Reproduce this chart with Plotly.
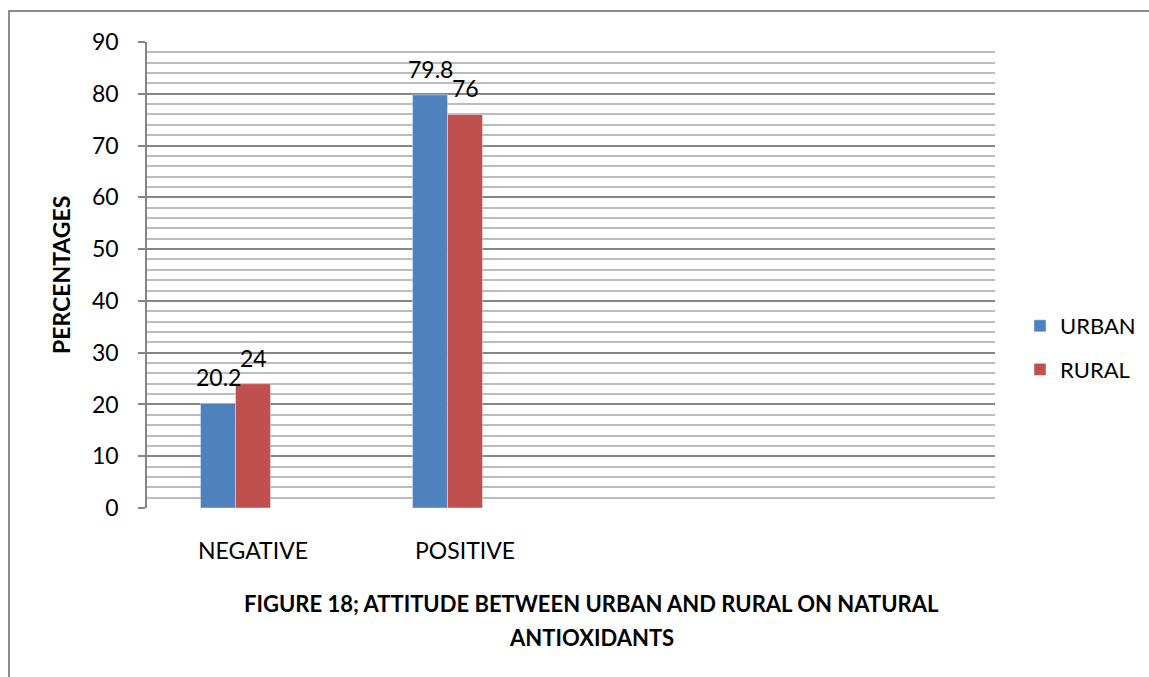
import plotly.graph_objects as go

# Attitude towards natural antioxidants (percent of respondents)
categories = ["NEGATIVE", "POSITIVE", " ", "  "]
responses = ["NEGATIVE", "POSITIVE"]
urban = [20.2, 79.8]
rural = [24, 76]
series_names = ["URBAN", "RURAL"]
y_ticks = [0, 10, 20, 30, 40, 50, 60, 70, 80, 90]

FONT = "Lato"
BLUE = "#4f81bd"
RED = "#c0504d"
BAR_W = 0.165

fig = go.Figure()
fig.add_trace(go.Bar(
    x=responses, y=urban, name=series_names[0], marker_color=BLUE,
    width=BAR_W, offset=-1.5 * BAR_W, legendgroup="u",
))
fig.add_trace(go.Bar(
    x=responses, y=rural, name=series_names[1], marker_color=RED,
    width=BAR_W, offset=-0.5 * BAR_W, legendgroup="r",
))

L, R, T, B = 147, 154, 42, 169
W, H = 1149, 677
pw, ph = W - L - R, H - T - B
cat_px = pw / len(categories)


def px_x(x):
    return (x - L) / pw


def px_y(y):
    return (H - B - y) / ph


# value labels sitting above each bar
value_labels = []
for values, shift in ((urban, -BAR_W * cat_px), (rural, 0)):
    for cat, v in zip(responses, values):
        value_labels.append(dict(
            x=cat, y=v, xref="x", yref="y", text=f"{v:g}", showarrow=False,
            xanchor="center", yanchor="middle", xshift=shift, yshift=26,
            font=dict(family=FONT, size=23, color="black"),
        ))

fig.update_layout(
    width=W, height=H,
    margin=dict(l=L, r=R, t=T, b=B, autoexpand=False),
    paper_bgcolor="white", plot_bgcolor="white",
    barmode="overlay",
    font=dict(family=FONT, size=23, color="black"),
    showlegend=True,
    legend=dict(
        x=px_x(1020), y=px_y(305), xanchor="left", yanchor="top",
        font=dict(family=FONT, size=22, color="black"),
        traceorder="grouped", tracegroupgap=12,
        bgcolor="rgba(0,0,0,0)",
    ),
    xaxis=dict(
        type="category", categoryorder="array", categoryarray=categories,
        range=[-0.5, 3.5], showgrid=False, zeroline=False,
        showline=False, ticks="", ticklabelstandoff=27,
        tickfont=dict(family=FONT, size=23, color="black"),
    ),
    yaxis=dict(
        range=[0, 90], tickvals=y_ticks, showgrid=True,
        gridcolor="#868686", gridwidth=1.5,
        minor=dict(dtick=2, showgrid=True, gridcolor="#bcbcbc", gridwidth=1.5),
        zeroline=False, showline=True, linecolor="#868686", linewidth=1.5,
        ticks="outside", ticklen=7, tickcolor="#868686", tickwidth=1.5,
        ticklabelstandoff=15,
        tickfont=dict(family=FONT, size=23, color="black"),
    ),
    shapes=[
        dict(type="rect", xref="paper", yref="paper",
             x0=px_x(9), x1=px_x(1165), y0=px_y(692), y1=px_y(11),
             line=dict(color="#8c8c8c", width=2), fillcolor="rgba(0,0,0,0)",
             layer="below"),
    ],
    annotations=value_labels + [
        dict(text="<b>PERCENTAGES</b>", textangle=-90, xref="paper", yref="paper",
             x=px_x(61), y=0.5, xanchor="center", yanchor="middle", showarrow=False,
             font=dict(family=FONT, size=23, color="black")),
        dict(text="<b>FIGURE 18; ATTITUDE BETWEEN URBAN AND RURAL ON NATURAL</b>",
             xref="paper", yref="paper", x=px_x(591), y=px_y(603),
             xanchor="center", yanchor="middle", showarrow=False,
             font=dict(family=FONT, size=22, color="black")),
        dict(text="<b>ANTIOXIDANTS</b>",
             xref="paper", yref="paper", x=px_x(591), y=px_y(637),
             xanchor="center", yanchor="middle", showarrow=False,
             font=dict(family=FONT, size=22, color="black")),
    ],
)

fig.write_html("out.html")
